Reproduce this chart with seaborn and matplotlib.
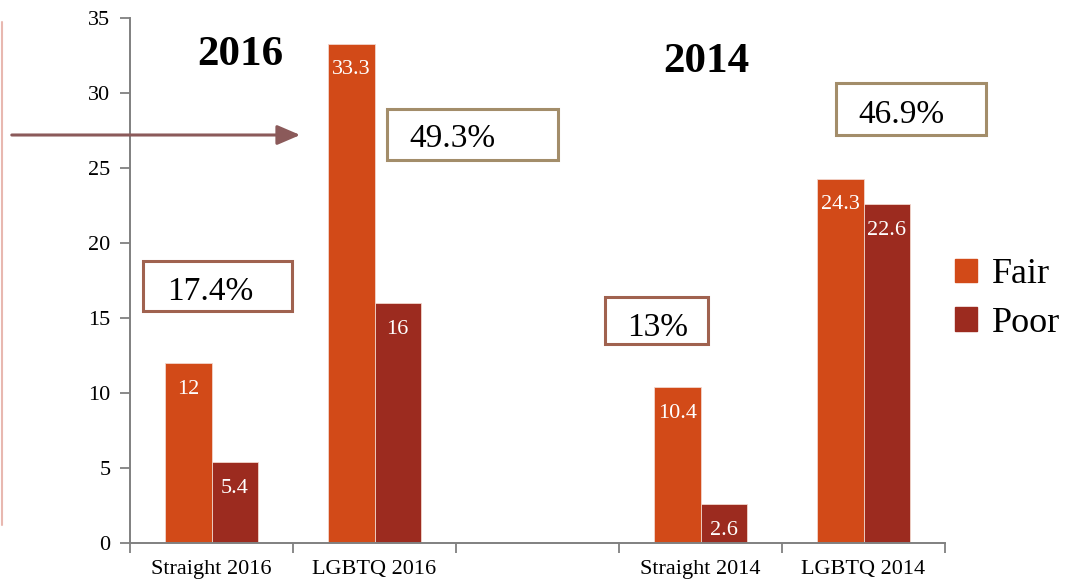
import numpy as np
import pandas as pd
import matplotlib
matplotlib.use("Agg")
import matplotlib.pyplot as plt
import seaborn as sns
from matplotlib.patches import Rectangle, FancyArrowPatch

# =========================
# DATA
# =========================

categories = ["Straight 2016", "LGBTQ 2016", "", "Straight 2014", "LGBTQ 2014"]
fair = [12, 33.3, np.nan, 10.4, 24.3]
poor = [5.4, 16, np.nan, 2.6, 22.6]
series_names = ["Fair", "Poor"]
series_colors = ["#D24A18", "#9C2B1F"]

year_titles = ["2016", "2014"]
box_labels = ["17.4%", "49.3%", "13%", "46.9%"]

df = pd.DataFrame({
    "Group": categories * 2,
    "Rating": ["Fair"] * len(categories) + ["Poor"] * len(categories),
    "Value": fair + poor,
})

# =========================
# FIGURE
# =========================

sns.set_style("white")
plt.rcParams["font.family"] = ["Liberation Serif", "DejaVu Serif"]
plt.rcParams["text.color"] = "black"
plt.rcParams["xtick.color"] = "black"
plt.rcParams["ytick.color"] = "black"

W, H = 1074, 588
fig = plt.figure(figsize=(W / 100, H / 100), dpi=100)
ax = fig.add_axes([130 / W, 1 - 543 / H, (945 - 130) / W, (543 - 18) / H])

sns.barplot(
    data=df,
    x="Group",
    y="Value",
    hue="Rating",
    order=categories,
    hue_order=series_names,
    palette=series_colors,
    saturation=1,
    width=0.565,
    edgecolor="#F2D6CC",
    linewidth=0.6,
    legend=False,
    ax=ax,
)

ax.set_ylim(0, 35)
ax.set_xlim(-0.5, len(categories) - 0.5)
ax.set_yticks(np.arange(0, 36, 5))
ax.set_xlabel("")
ax.set_ylabel("")

# ticks at the category boundaries, labels at the centres
ax.set_xticks(np.arange(-0.5, len(categories), 1.0))
ax.set_xticklabels([])
ax.set_xticks(np.arange(len(categories)), minor=True)
ax.set_xticklabels(categories, minor=True, fontsize=16)
ax.tick_params(axis="x", which="minor", bottom=True, length=0, pad=12,
               labelcolor="black")
ax.tick_params(axis="x", which="major", bottom=True, direction="out",
               length=7, width=1.3, color="#808080")
ax.tick_params(axis="y", left=True, direction="out", length=7, width=1.3,
               color="#808080", labelcolor="black", labelsize=16, pad=7)

for side in ["top", "right"]:
    ax.spines[side].set_visible(False)
for side in ["left", "bottom"]:
    ax.spines[side].set_color("#808080")
    ax.spines[side].set_linewidth(1.4)

# value labels inside the bars
for container in ax.containers:
    for bar in container:
        if bar is None:
            continue
        h = bar.get_height()
        if np.isnan(h) or h == 0:
            continue
        ax.annotate(
            f"{h:g}",
            (bar.get_x() + bar.get_width() / 2, h),
            xytext=(0, -19),
            textcoords="offset points",
            ha="center",
            va="center",
            color="white",
            fontsize=16,
        )

# legend
handles = [Rectangle((0, 0), 1, 1, color=c) for c in series_colors]
fig.legend(
    handles, series_names,
    loc="center left",
    bbox_to_anchor=(955 / W, 1 - 299 / H),
    frameon=False,
    fontsize=26,
    handlelength=0.62,
    handleheight=0.62,
    handletextpad=0.4,
    labelspacing=0.42,
    borderpad=0,
    borderaxespad=0,
)

# year titles
fig.text(240 / W, 1 - 55 / H, year_titles[0], fontsize=31,
         fontweight="bold", ha="center", va="center")
fig.text(706 / W, 1 - 62 / H, year_titles[1], fontsize=31,
         fontweight="bold", ha="center", va="center")

# percentage boxes: (left, top, right, bottom) in pixels, text centre
boxes = [
    ((143, 261, 292, 311), (210, 292), "#A0624F"),
    ((387, 109, 558, 160), (452, 139), "#A38D6A"),
    ((605, 297, 708, 344), (658, 328), "#A0624F"),
    ((836, 83, 986, 135), (901, 115), "#A38D6A"),
]
for label, (rect, (tx, ty), col) in zip(box_labels, boxes):
    x0, y0, x1, y1 = rect
    fig.patches.append(Rectangle(
        (x0 / W, 1 - y1 / H), (x1 - x0) / W, (y1 - y0) / H,
        transform=fig.transFigure, fill=False, edgecolor=col,
        linewidth=2.2))
    fig.text(tx / W, 1 - ty / H, label, fontsize=24,
             ha="center", va="center")

# arrow from the left
fig.patches.append(FancyArrowPatch(
    (9 / W, 1 - 135 / H), (303 / W, 1 - 135 / H),
    transform=fig.transFigure, arrowstyle="-|>,head_length=14,head_width=6",
    color="#8B5A5A", linewidth=2.2, mutation_scale=1))

# thin pink line on the far left
fig.lines.append(plt.Line2D([1.5 / W, 1.5 / W], [1 - 22 / H, 1 - 525 / H],
                            transform=fig.transFigure, color="#E8B8B0",
                            linewidth=1.5))

fig.savefig("out.png", dpi=100)
